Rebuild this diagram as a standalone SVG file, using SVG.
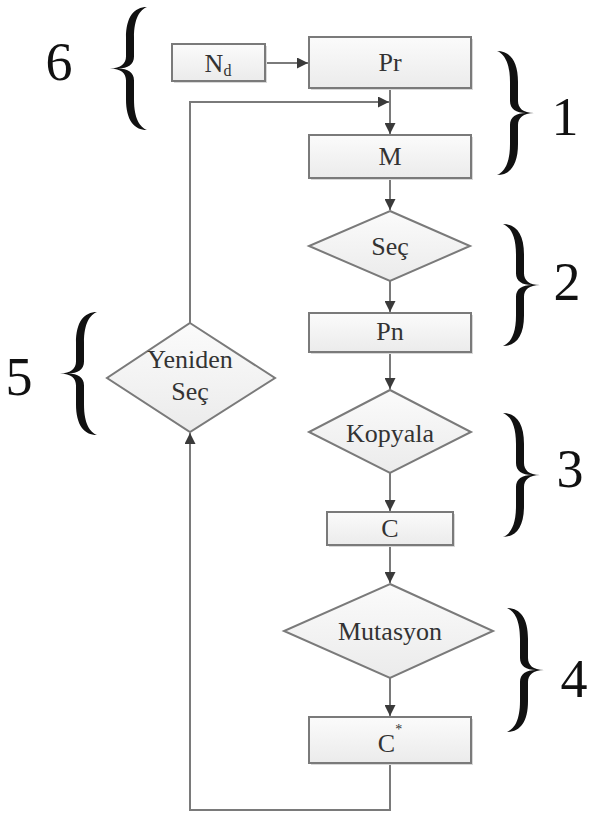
<svg xmlns="http://www.w3.org/2000/svg" width="592" height="816" viewBox="0 0 592 816">
<style>
.box{fill:url(#g);stroke:#7a7a7a;stroke-width:2}
.sh{fill:#d8d8d8}
.t{font-size:26px;fill:#333;text-anchor:middle}
.num{font-size:54px;fill:#111;text-anchor:middle}
.c{fill:none;stroke:#7a7a7a;stroke-width:2;marker-end:url(#ah)}
.br{fill:#111}
</style>
<defs>
<linearGradient id="g" x1="0" y1="0" x2="0" y2="1">
<stop offset="0" stop-color="#fbfbfb"/>
<stop offset="1" stop-color="#ebebeb"/>
</linearGradient>
<marker id="ah" viewBox="0 0 10 10" refX="10" refY="5" markerWidth="11" markerHeight="11" markerUnits="userSpaceOnUse" orient="auto">
<path d="M0,0 L10,5 L0,10 z" fill="#3a3a3a"/>
</marker>
<path id="rb" d="M0,0 C13,0 21,10 21,31 L21,50 C21,57 26,62 37,62 C26,62 21,67 21,74 L21,93 C21,114 13,124 0,124 C7,121 13,113 13,93 L13,74 C13,66 19,62 29,62 C19,62 13,58 13,50 L13,31 C13,11 7,3 0,0 Z"/>
</defs>

<g id="connectors">
<path class="c" d="M265,63 H308"/>
<path class="c" d="M390,88 V134"/>
<path class="c" d="M190,323 V102 H389"/>
<path class="c" d="M390,178 V210"/>
<path class="c" d="M390,281 V312"/>
<path class="c" d="M390,352 V389"/>
<path class="c" d="M390,473 V511"/>
<path class="c" d="M390,545 V583"/>
<path class="c" d="M390,678 V716"/>
<path class="c" d="M390,763 V810 H190 V433"/>
</g>

<g font-family="Liberation Serif, serif">
<g id="node-nd">
<rect class="sh" x="174" y="46" width="93" height="37"/>
<rect class="box" x="172" y="44" width="93" height="37"/>
<text class="t" x="218" y="72">N<tspan font-size="16" dy="4">d</tspan></text>
</g>
<g id="node-pr">
<rect class="sh" x="311" y="39" width="162" height="51"/>
<rect class="box" x="309" y="37" width="162" height="51"/>
<text class="t" x="390" y="71">Pr</text>
</g>
<g id="node-m">
<rect class="sh" x="311" y="137" width="162" height="43"/>
<rect class="box" x="309" y="135" width="162" height="43"/>
<text class="t" x="390" y="165">M</text>
</g>
<g id="node-sec">
<polygon class="box" points="390,211 470,246 390,281 309,246"/>
<text class="t" x="390" y="255">Seç</text>
</g>
<g id="node-pn">
<rect class="sh" x="311" y="315" width="162" height="39"/>
<rect class="box" x="309" y="313" width="162" height="39"/>
<text class="t" x="390" y="340">Pn</text>
</g>
<g id="node-kopyala">
<polygon class="box" points="390,390 471,432 390,473 309,432"/>
<text class="t" x="390" y="442">Kopyala</text>
</g>
<g id="node-c">
<rect class="sh" x="329" y="514" width="126" height="33"/>
<rect class="box" x="327" y="512" width="126" height="33"/>
<text class="t" x="390" y="537">C</text>
</g>
<g id="node-mutasyon">
<polygon class="box" points="390,584 493,631 390,678 284,631"/>
<text class="t" x="390" y="640" textLength="104" lengthAdjust="spacingAndGlyphs">Mutasyon</text>
</g>
<g id="node-cstar">
<rect class="sh" x="311" y="719" width="162" height="46"/>
<rect class="box" x="309" y="717" width="162" height="46"/>
<text class="t" x="390" y="752">C<tspan font-size="14" dy="-18">*</tspan></text>
</g>
<g id="node-yeniden">
<polygon class="box" points="190,323 275,378 190,432 107,378"/>
<text class="t" x="190" y="368">Yeniden</text>
<text class="t" x="190" y="400">Seç</text>
</g>

<g id="braces">
<use href="#rb" class="br" transform="translate(147,7) scale(-1,0.992)"/>
<use href="#rb" class="br" transform="translate(497,51)"/>
<use href="#rb" class="br" transform="translate(503,224) scale(1,0.984)"/>
<use href="#rb" class="br" transform="translate(503,413)"/>
<use href="#rb" class="br" transform="translate(507,608)"/>
<use href="#rb" class="br" transform="translate(97,312) scale(-1,0.992)"/>
<text class="num" x="59" y="80">6</text>
<text class="num" x="565" y="135">1</text>
<text class="num" x="567" y="300">2</text>
<text class="num" x="570" y="487">3</text>
<text class="num" x="574" y="697">4</text>
<text class="num" x="19" y="395">5</text>
</g>
</g>
</svg>
